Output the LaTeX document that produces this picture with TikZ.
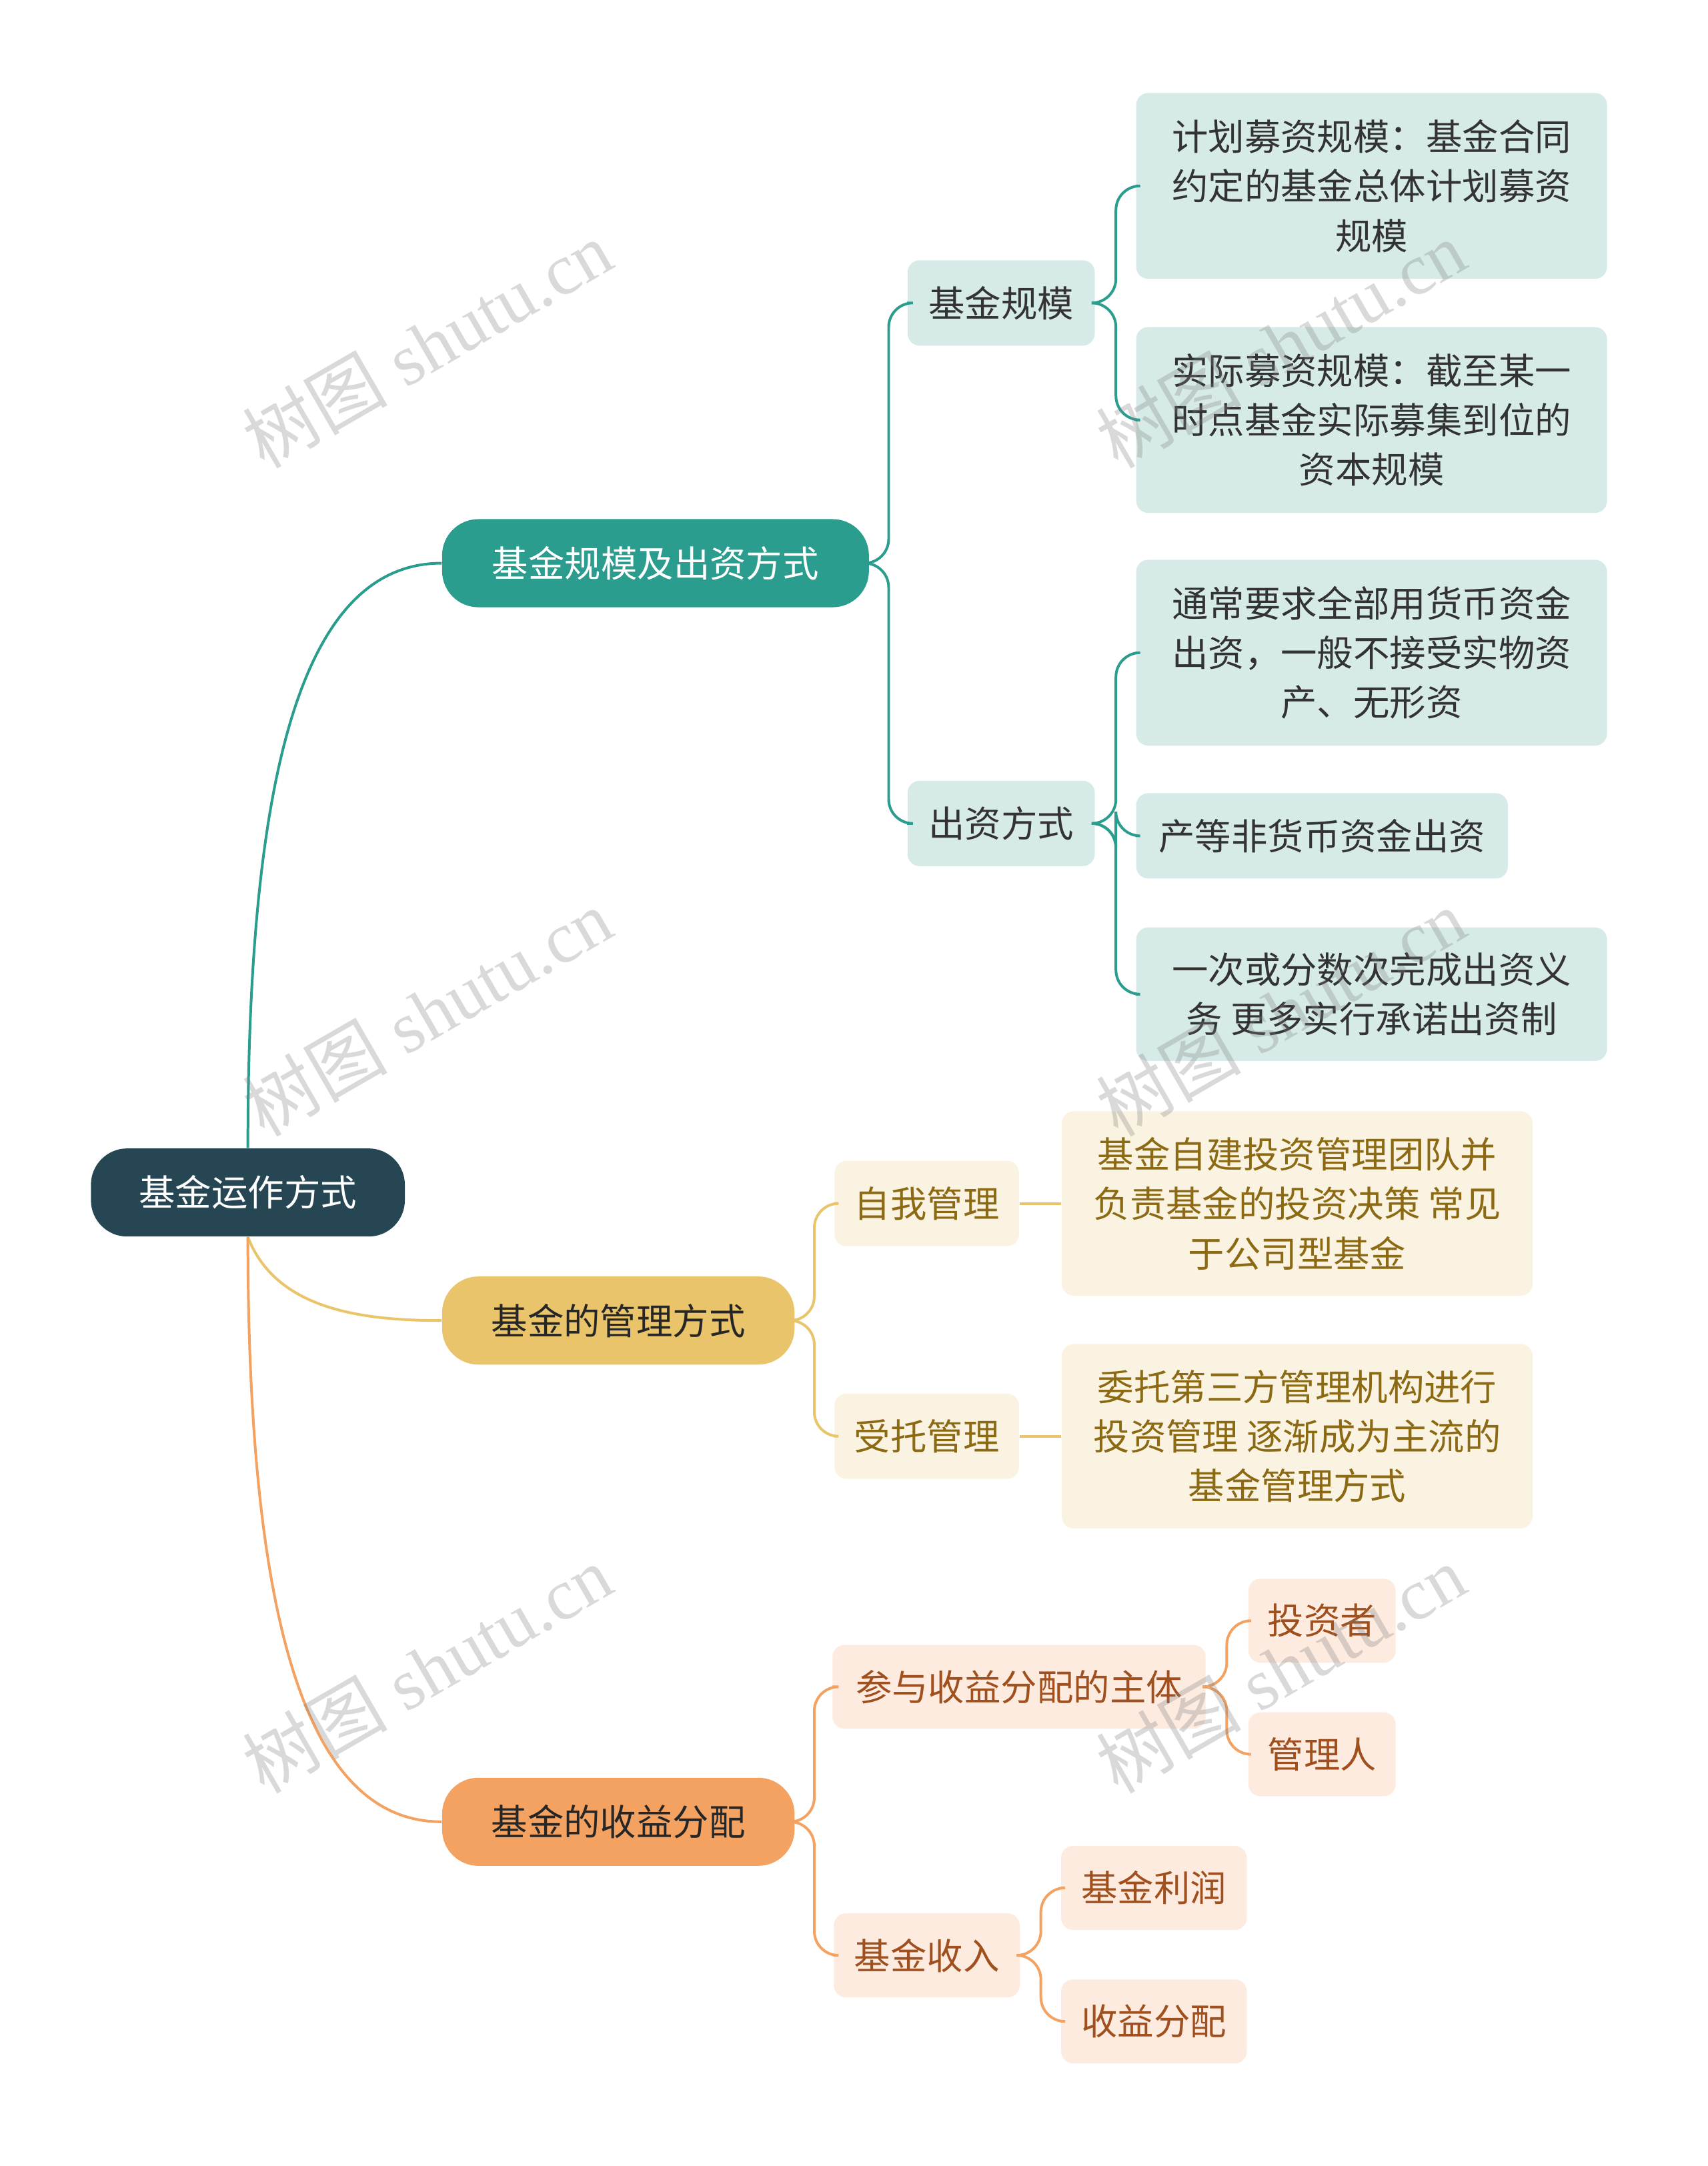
\documentclass[tikz,border=0pt]{standalone}
\usepackage{fontspec}
\setmainfont{Noto Sans CJK SC}
\newfontfamily\wmfont{Liberation Serif}
\usetikzlibrary{positioning}

\definecolor{rootc}{HTML}{264653}
\definecolor{tealc}{HTML}{2A9D8F}
\definecolor{tealfill}{HTML}{D6EBE8}
\definecolor{yelc}{HTML}{E9C46A}
\definecolor{yelfill}{HTML}{FBF3E2}
\definecolor{yeltext}{HTML}{8C6A14}
\definecolor{orac}{HTML}{F4A261}
\definecolor{orafill}{HTML}{FDEBE0}
\definecolor{oratext}{HTML}{A0501E}

\tikzset{
  box/.style={rounded corners=5pt, align=center, inner sep=0pt, font=\fontsize{15pt}{20.5pt}\selectfont},
  rootbox/.style={box, rounded corners=15pt, fill=rootc, text=white, minimum width=4.56cm, minimum height=1.28cm},
  topbox/.style={box, rounded corners=15pt, minimum height=1.28cm},
  tealbox/.style={box, fill=tealfill, text=black!80},
  yelbox/.style={box, fill=yelfill, text=yeltext},
  orabox/.style={box, fill=orafill, text=oratext},
  link/.style={line width=1.1pt, rounded corners=10pt},
  wmark/.style={text=gray, opacity=0.3, rotate=30, font=\wmfont\fontsize{30pt}{30pt}\selectfont}
}

\begin{document}
\begin{tikzpicture}[x=0.02cm, y=-0.02cm]
\useasboundingbox (0,0) rectangle (1240,1573);

% main nodes
\node[rootbox] (root) at (180,866) {基金运作方式};
\node[topbox, fill=tealc, text=white, minimum width=6.2cm] (size) at (476,409) {基金规模及出资方式};
\node[topbox, fill=yelc, text=black!85, minimum width=5.12cm] (mgmt) at (449,959) {基金的管理方式};
\node[topbox, fill=orac, text=black!85, minimum width=5.12cm] (dist) at (449,1323) {基金的收益分配};

% teal branch
\node[tealbox, minimum width=2.72cm, minimum height=1.24cm] (scale) at (727,220) {基金规模};
\node[tealbox, minimum width=2.72cm, minimum height=1.24cm] (contrib) at (727,598) {出资方式};
\node[tealbox, minimum width=6.84cm, minimum height=2.7cm] (plan) at (996,135) {计划募资规模：基金合同\\约定的基金总体计划募资\\规模};
\node[tealbox, minimum width=6.84cm, minimum height=2.7cm] (actual) at (996,305) {实际募资规模：截至某一\\时点基金实际募集到位的\\资本规模};
\node[tealbox, minimum width=6.84cm, minimum height=2.7cm] (cash) at (996,474) {通常要求全部用货币资金\\出资，一般不接受实物资\\产、无形资};
\node[tealbox, minimum width=5.4cm, minimum height=1.24cm] (noncash) at (960,607) {产等非货币资金出资};
\node[tealbox, minimum width=6.84cm, minimum height=1.94cm] (commit) at (996,722) {一次或分数次完成出资义\\务 更多实行承诺出资制};

% yellow branch
\node[yelbox, minimum width=2.68cm, minimum height=1.24cm] (self) at (673,874) {自我管理};
\node[yelbox, minimum width=2.68cm, minimum height=1.24cm] (trust) at (673,1043) {受托管理};
\node[yelbox, minimum width=6.84cm, minimum height=2.68cm] (selfdesc) at (942,874) {基金自建投资管理团队并\\负责基金的投资决策 常见\\于公司型基金};
\node[yelbox, minimum width=6.84cm, minimum height=2.68cm] (trustdesc) at (942,1043) {委托第三方管理机构进行\\投资管理 逐渐成为主流的\\基金管理方式};

% orange branch
\node[orabox, minimum width=5.42cm, minimum height=1.22cm] (party) at (740,1225) {参与收益分配的主体};
\node[orabox, minimum width=2.7cm, minimum height=1.22cm] (income) at (673,1420) {基金收入};
\node[orabox, minimum width=2.14cm, minimum height=1.22cm] (investor) at (960,1177) {投资者};
\node[orabox, minimum width=2.14cm, minimum height=1.22cm] (manager) at (960,1274) {管理人};
\node[orabox, minimum width=2.7cm, minimum height=1.22cm] (profit) at (838,1371) {基金利润};
\node[orabox, minimum width=2.7cm, minimum height=1.22cm] (share) at (838,1468) {收益分配};

% connectors from root
\draw[line width=1.1pt, tealc] (root.north) .. controls (180,560) and (220,409) .. (size.west);
\draw[line width=1.1pt, yelc] (root.south) .. controls (200,950) and (260,959) .. (mgmt.west);
\draw[line width=1.1pt, orac] (root.south) .. controls (180,1200) and (230,1323) .. (dist.west);

% brackets
\foreach \c in {scale,contrib} \draw[link, tealc] (size.east) -- ++(14,0) |- (\c.west);
\foreach \c in {plan,actual} \draw[link, tealc] (scale.east) -- ++(15,0) |- (\c.west);
\foreach \c in {cash,noncash,commit} \draw[link, tealc] (contrib.east) -- ++(15,0) |- (\c.west);
\foreach \c in {self,trust} \draw[link, yelc] (mgmt.east) -- ++(14,0) |- (\c.west);
\draw[link, yelc] (self.east) -- (selfdesc.west);
\draw[link, yelc] (trust.east) -- (trustdesc.west);
\foreach \c in {party,income} \draw[link, orac] (dist.east) -- ++(14,0) |- (\c.west);
\foreach \c in {investor,manager} \draw[link, orac] (party.east) -- ++(15,0) |- (\c.west);
\foreach \c in {profit,share} \draw[link, orac] (income.east) -- ++(15,0) |- (\c.west);

% watermarks
\foreach \wx in {310,930} \foreach \wy in {250,735,1212}
  \node[wmark] (wm\wx\wy) at (\wx,\wy) {\fontspec{Noto Sans CJK SC}树图\wmfont{} shutu.cn};
\end{tikzpicture}
\end{document}
